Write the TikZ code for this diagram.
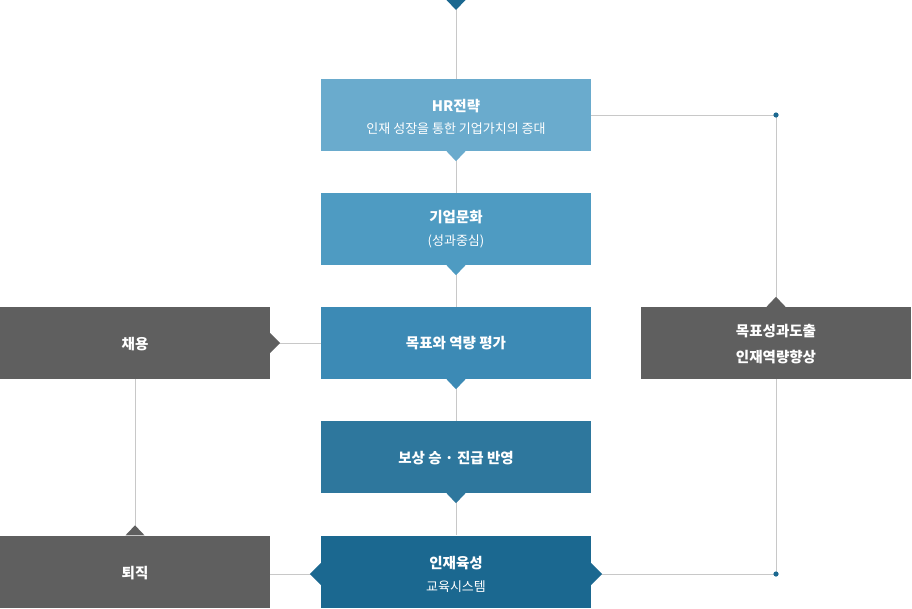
\documentclass[tikz,border=0pt]{standalone}
\usepackage{fontspec}
\newfontfamily\kr{Noto Sans CJK KR}
\definecolor{cA}{HTML}{6AABCD}
\definecolor{cB}{HTML}{4E9BC2}
\definecolor{cC}{HTML}{3C8AB5}
\definecolor{cD}{HTML}{2E779D}
\definecolor{cE}{HTML}{1B6890}
\definecolor{cG}{HTML}{5F5F5F}
\definecolor{cL}{HTML}{C8C8C8}
\begin{document}
\begin{tikzpicture}[x=1pt,y=-1pt,
  box/.style={minimum width=270pt,minimum height=72pt,inner sep=0pt,text=white,align=center,font=\kr\fontsize{14}{20}\selectfont},
  lbl/.style={text=white,inner sep=0pt,font=\kr\fontsize{14.5}{20}\selectfont\bfseries},
  sub/.style={text=white,inner sep=0pt,font=\kr\fontsize{13}{16}\selectfont},
  conn/.style={draw=cL,line width=1pt}]
\useasboundingbox (0,0) rectangle (912,608);
\coordinate (top) at (456,9);
\node[box,fill=cA] (hr) at (456,115) {};
\node[box,fill=cB] (cul) at (456,229) {};
\node[box,fill=cC] (eval) at (456,343) {};
\node[box,fill=cD] (pay) at (456,457) {};
\node[box,fill=cE] (dev) at (456,571.5) {};
\node[box,fill=cG] (hire) at (135,343) {};
\node[box,fill=cG] (quit) at (135,571.5) {};
\node[box,fill=cG] (goal) at (776,343) {};
\coordinate (d1) at (776,115);
\coordinate (d2) at (776,574);
\draw[conn] (top) -- (hr.north);
\draw[conn] (hr.south) -- (cul.north);
\draw[conn] (cul.south) -- (eval.north);
\draw[conn] (eval.south) -- (pay.north);
\draw[conn] (pay.south) -- (dev.north);
\draw[conn] (hire.east) -- (eval.west);
\draw[conn] (hire.south) -- (quit.north);
\draw[conn] (quit.east |- d2) -- (dev.west |- d2);
\draw[conn] (dev.east |- d2) -- (d2);
\draw[conn] (hr.east |- d1) -- (d1);
\draw[conn] (d1) -- (goal.north);
\draw[conn] (goal.south) -- (d2);
\fill[cE] (d1) circle (2.6);
\fill[cE] (d2) circle (2.6);
% triangles
\fill[cE] (446.5,0) -- (465.5,0) -- (456,10) -- cycle;
\foreach \n/\c in {hr/cA,cul/cB,eval/cC,pay/cD}{
  \fill[\c] ([xshift=-9.5pt]\n.south) -- ([xshift=9.5pt]\n.south) -- ([yshift=-10pt]\n.south) -- cycle;
}
\fill[cE] ([yshift=-11pt]dev.west |- d2) -- ([yshift=11pt]dev.west |- d2) -- ([xshift=-11pt]dev.west |- d2) -- cycle;
\fill[cE] ([yshift=-11pt]dev.east |- d2) -- ([yshift=11pt]dev.east |- d2) -- ([xshift=11pt]dev.east |- d2) -- cycle;
\fill[cG] ([yshift=-10pt]hire.east) -- ([yshift=10pt]hire.east) -- ([xshift=10pt]hire.east) -- cycle;
\fill[cG] ([xshift=-9.5pt]quit.north) -- ([xshift=9.5pt]quit.north) -- ([yshift=10pt]quit.north) -- cycle;
\fill[cG] ([xshift=-9.5pt]goal.north) -- ([xshift=9.5pt]goal.north) -- ([yshift=10pt]goal.north) -- cycle;
% texts
\node[lbl] (t1) at (456,106) {HR전략};
\node[sub] (s1) at (456,129) {인재 성장을 통한 기업가치의 증대};
\node[lbl] (t2) at (456,217) {기업문화};
\node[sub] (s2) at (456,241) {(성과중심)};
\node[lbl] (t3) at (456,343) {목표와 역량 평가};
\node[lbl] (t4) at (456,458) {보상 승 · 진급 반영};
\node[lbl] (t5) at (456,563) {인재육성};
\node[sub] (s5) at (456,587) {교육시스템};
\node[lbl] (t6) at (135,344) {채용};
\node[lbl] (t7) at (135,573) {퇴직};
\node[lbl] (t8) at (776,331) {목표성과도출};
\node[lbl] (t9) at (776,357) {인재역량향상};
\end{tikzpicture}
\end{document}
